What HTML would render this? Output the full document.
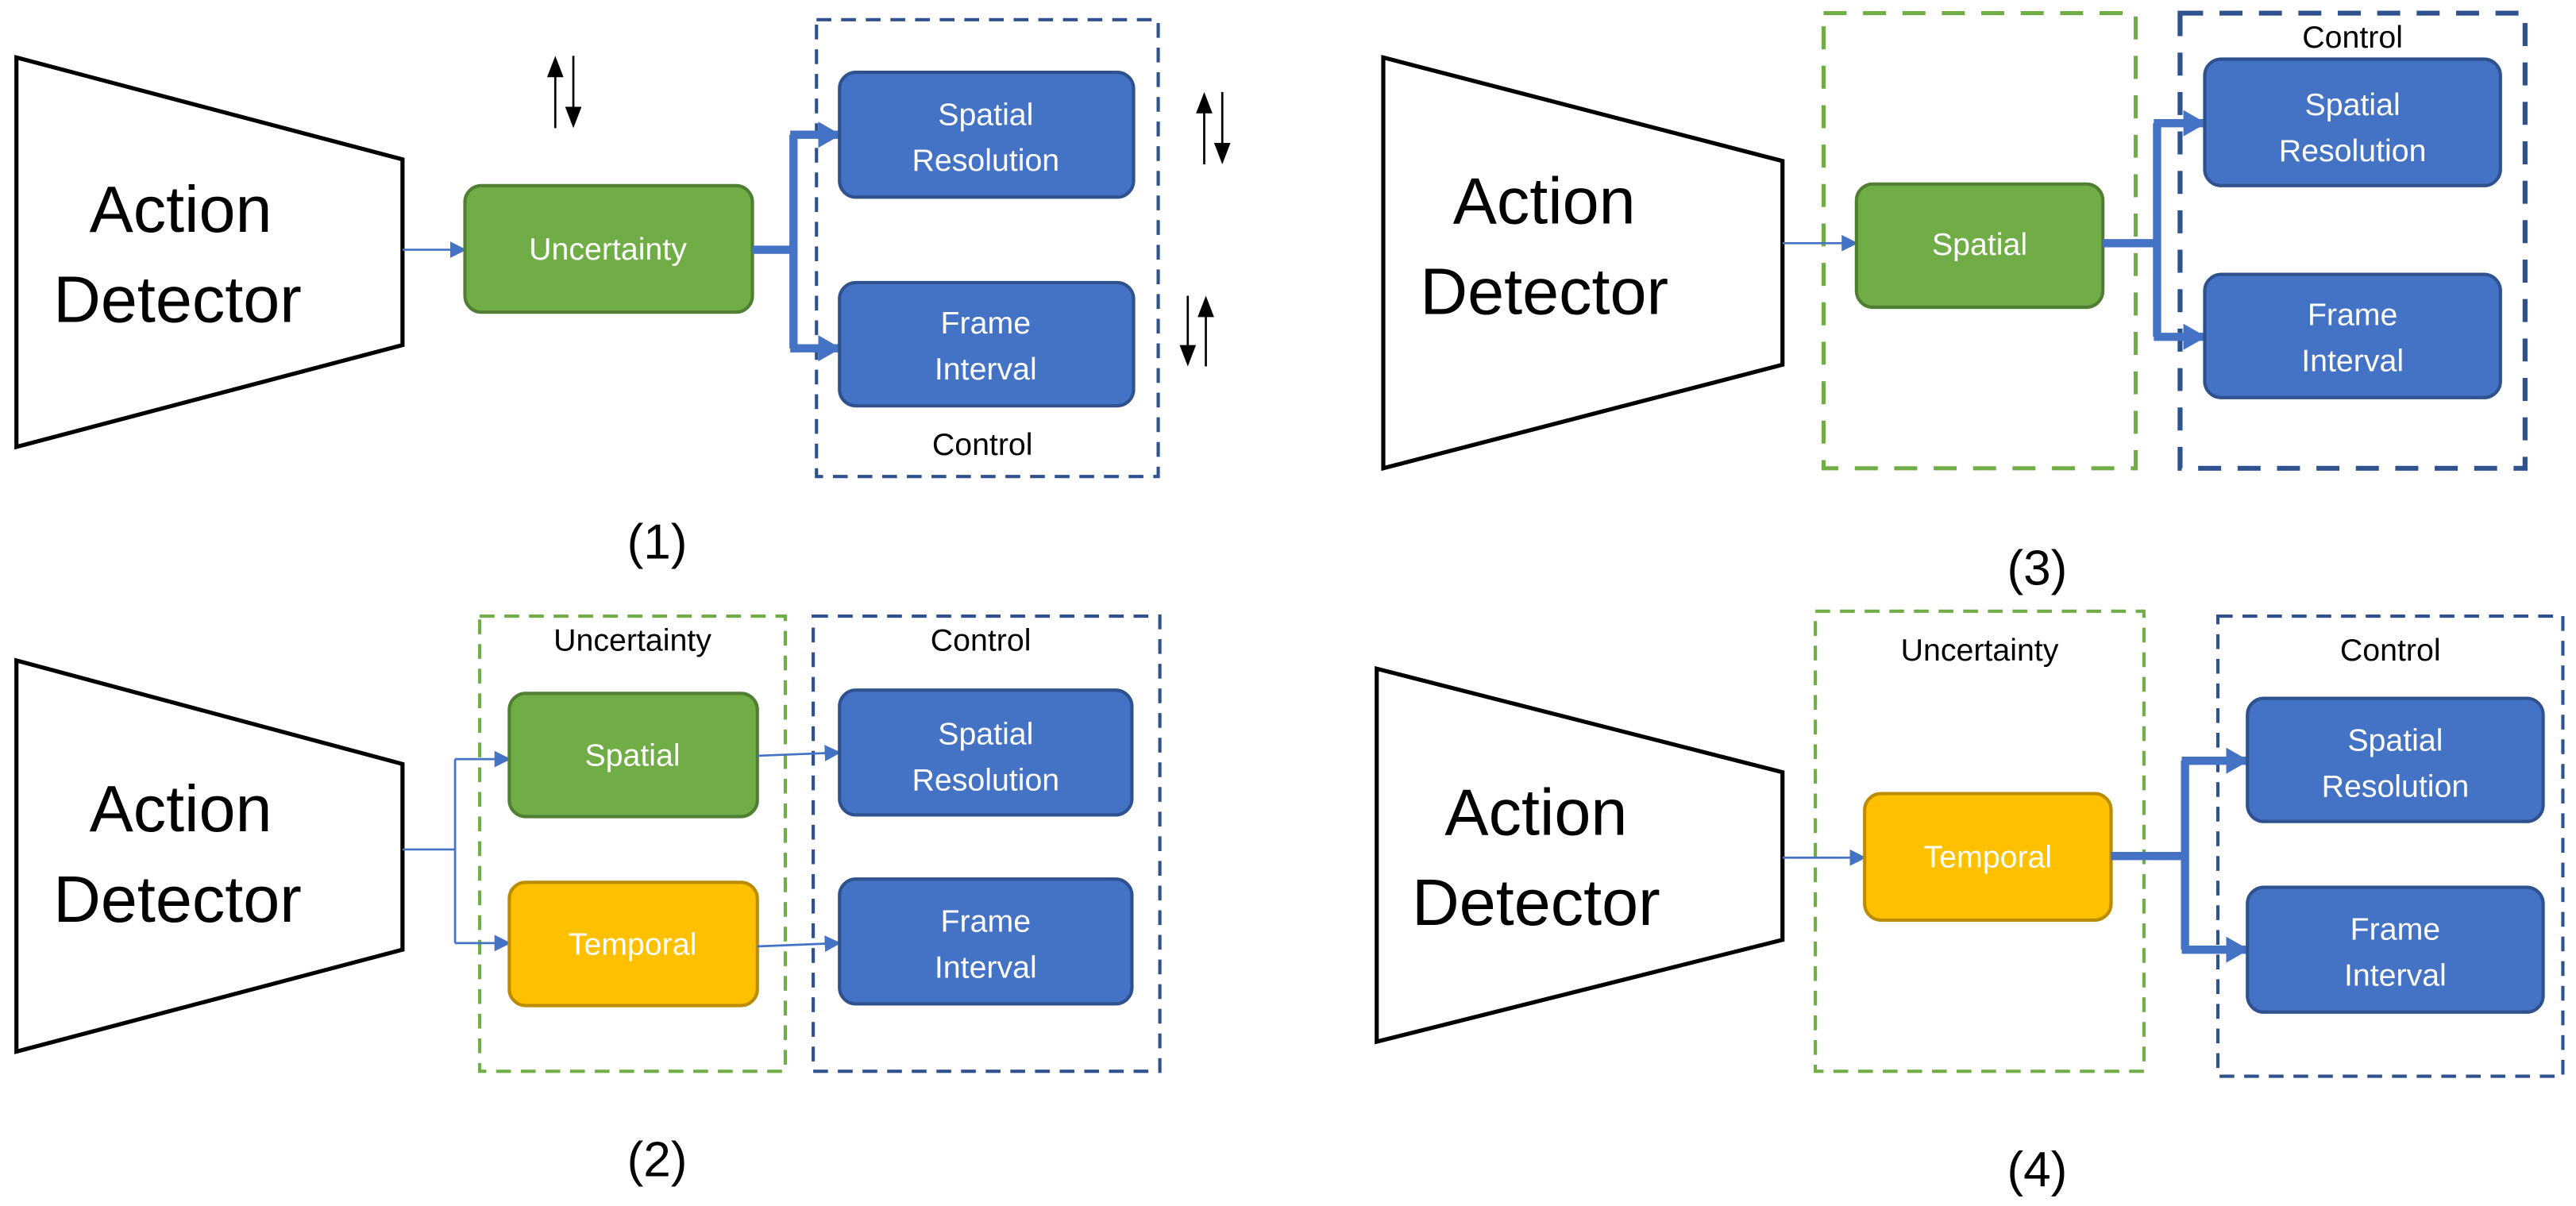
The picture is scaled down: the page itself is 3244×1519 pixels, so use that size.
<!DOCTYPE html>
<html><head><meta charset="utf-8"><style>
html,body{margin:0;padding:0;background:#fff;}
svg{display:block;}
text{font-family:"Liberation Sans",sans-serif;}
.w{fill:#fff;font-size:19px;text-anchor:middle;}
.b{fill:#000;font-size:19px;text-anchor:middle;}
.big{fill:#000;font-size:40px;text-anchor:middle;}
.lab{fill:#000;font-size:30px;text-anchor:middle;}
.blue{fill:#4472C4;stroke:#2F528F;stroke-width:2;}
.green{fill:#70AD47;stroke:#507E32;stroke-width:2;}
.yel{fill:#FFC000;stroke:#BC8C00;stroke-width:2;}
.trap{fill:#fff;stroke:#000;stroke-width:2.5;}
.gd{fill:none;stroke:#70AD47;stroke-width:2;stroke-dasharray:9 6;}
.bd{fill:none;stroke:#2F528F;stroke-width:2;stroke-dasharray:9 6;}
.thin{stroke:#4472C4;stroke-width:1.3;fill:none;}
.thick{stroke:#4472C4;stroke-width:5;fill:none;}
</style></head><body>
<svg width="3244" height="1519" viewBox="0 0 1568 734" preserveAspectRatio="none" xmlns="http://www.w3.org/2000/svg">
<defs>
<marker id="ah" markerWidth="10" markerHeight="10" refX="9" refY="5" orient="auto" markerUnits="userSpaceOnUse"><path d="M0,0 L10,5 L0,10 z" fill="#4472C4"/></marker>
<marker id="ahb" markerWidth="14" markerHeight="16" refX="13" refY="8" orient="auto" markerUnits="userSpaceOnUse"><path d="M0,0 L14,8 L0,16 z" fill="#4472C4"/></marker>
</defs>

<!-- Panel 1 -->
<polygon class="trap" points="10,35 245,97 245,210 10,272"/>
<text class="big" x="110" y="141">Action</text>
<text class="big" x="108" y="196">Detector</text>
<line class="thin" x1="245" y1="152" x2="283" y2="152" marker-end="url(#ah)"/>
<rect class="green" x="283" y="113" width="175" height="77" rx="10"/>
<text class="w" x="370" y="158">Uncertainty</text>
<rect class="bd" x="497" y="12" width="208" height="278"/>
<path class="thick" d="M458,152 H483 M483,82 V212"/>
<line class="thick" x1="481" y1="82" x2="511" y2="82" marker-end="url(#ahb)"/>
<line class="thick" x1="481" y1="212" x2="511" y2="212" marker-end="url(#ahb)"/>
<rect class="blue" x="511" y="44" width="179" height="76" rx="10"/>
<text class="w" x="600" y="76">Spatial</text><text class="w" x="600" y="104">Resolution</text>
<rect class="blue" x="511" y="172" width="179" height="75" rx="10"/>
<text class="w" x="600" y="203">Frame</text><text class="w" x="600" y="231">Interval</text>
<text class="b" x="598" y="277">Control</text>
<text class="lab" x="400" y="340">(1)</text>
<g stroke="#000" stroke-width="1.3">
<line x1="338" y1="78" x2="338" y2="44"/><polygon points="333,47 338,34 343,47" fill="#000" stroke="none"/>
<line x1="349" y1="34" x2="349" y2="68"/><polygon points="344,65 349,78 354,65" fill="#000" stroke="none"/>
<line x1="733" y1="100" x2="733" y2="66"/><polygon points="728,69 733,56 738,69" fill="#000" stroke="none"/>
<line x1="744" y1="56" x2="744" y2="90"/><polygon points="739,87 744,100 749,87" fill="#000" stroke="none"/>
<line x1="723" y1="180" x2="723" y2="213"/><polygon points="718,210 723,223 728,210" fill="#000" stroke="none"/>
<line x1="734" y1="223" x2="734" y2="190"/><polygon points="729,193 734,180 739,193" fill="#000" stroke="none"/>
</g>

<!-- Panel 3 -->
<polygon class="trap" points="842,35 1085,98 1085,222 842,285"/>
<text class="big" x="940" y="136">Action</text>
<text class="big" x="940" y="191">Detector</text>
<rect class="gd" x="1110" y="8" width="190" height="277" style="stroke-width:2.5;stroke-dasharray:14 10"/>
<rect class="bd" x="1327" y="8" width="210" height="277" style="stroke-width:3;stroke-dasharray:14 10"/>
<line class="thin" x1="1085" y1="148" x2="1130" y2="148" marker-end="url(#ah)"/>
<rect class="green" x="1130" y="112" width="150" height="75" rx="10"/>
<text class="w" x="1205" y="155">Spatial</text>
<path class="thick" d="M1280,148 H1313 M1313,75 V205"/>
<line class="thick" x1="1311" y1="75" x2="1342" y2="75" marker-end="url(#ahb)"/>
<line class="thick" x1="1311" y1="205" x2="1342" y2="205" marker-end="url(#ahb)"/>
<rect class="blue" x="1342" y="36" width="180" height="77" rx="10"/>
<text class="w" x="1432" y="70">Spatial</text><text class="w" x="1432" y="98">Resolution</text>
<rect class="blue" x="1342" y="167" width="180" height="75" rx="10"/>
<text class="w" x="1432" y="198">Frame</text><text class="w" x="1432" y="226">Interval</text>
<text class="b" x="1432" y="29">Control</text>
<text class="lab" x="1240" y="356">(3)</text>

<!-- Panel 2 -->
<polygon class="trap" points="10,402 245,465 245,578 10,640"/>
<text class="big" x="110" y="506">Action</text>
<text class="big" x="108" y="561">Detector</text>
<rect class="gd" x="292" y="375" width="186" height="277"/>
<rect class="bd" x="495" y="375" width="211" height="277"/>
<text class="b" x="385" y="396">Uncertainty</text>
<text class="b" x="597" y="396">Control</text>
<path class="thin" d="M245,517 H277 M277,462 V574"/>
<line class="thin" x1="277" y1="462" x2="310" y2="462" marker-end="url(#ah)"/>
<line class="thin" x1="277" y1="574" x2="310" y2="574" marker-end="url(#ah)"/>
<rect class="green" x="310" y="422" width="151" height="75" rx="10"/>
<text class="w" x="385" y="466">Spatial</text>
<rect class="yel" x="310" y="537" width="151" height="75" rx="10"/>
<text class="w" x="385" y="581">Temporal</text>
<line class="thin" x1="461" y1="460" x2="511" y2="458" marker-end="url(#ah)"/>
<line class="thin" x1="461" y1="576" x2="511" y2="574" marker-end="url(#ah)"/>
<rect class="blue" x="511" y="420" width="178" height="76" rx="10"/>
<text class="w" x="600" y="453">Spatial</text><text class="w" x="600" y="481">Resolution</text>
<rect class="blue" x="511" y="535" width="178" height="76" rx="10"/>
<text class="w" x="600" y="567">Frame</text><text class="w" x="600" y="595">Interval</text>
<text class="lab" x="400" y="716">(2)</text>

<!-- Panel 4 -->
<polygon class="trap" points="838,407 1085,470 1085,572 838,634"/>
<text class="big" x="935" y="508">Action</text>
<text class="big" x="935" y="563">Detector</text>
<rect class="gd" x="1105" y="372" width="200" height="280"/>
<rect class="bd" x="1350" y="375" width="210" height="280"/>
<text class="b" x="1205" y="402">Uncertainty</text>
<text class="b" x="1455" y="402">Control</text>
<line class="thin" x1="1085" y1="522" x2="1135" y2="522" marker-end="url(#ah)"/>
<rect class="yel" x="1135" y="483" width="150" height="77" rx="10"/>
<text class="w" x="1210" y="528">Temporal</text>
<path class="thick" d="M1285,521 H1330 M1330,463 V578"/>
<line class="thick" x1="1328" y1="463" x2="1368" y2="463" marker-end="url(#ahb)"/>
<line class="thick" x1="1328" y1="578" x2="1368" y2="578" marker-end="url(#ahb)"/>
<rect class="blue" x="1368" y="425" width="180" height="75" rx="10"/>
<text class="w" x="1458" y="457">Spatial</text><text class="w" x="1458" y="485">Resolution</text>
<rect class="blue" x="1368" y="540" width="180" height="76" rx="10"/>
<text class="w" x="1458" y="572">Frame</text><text class="w" x="1458" y="600">Interval</text>
<text class="lab" x="1240" y="722">(4)</text>
</svg>
</body></html>
